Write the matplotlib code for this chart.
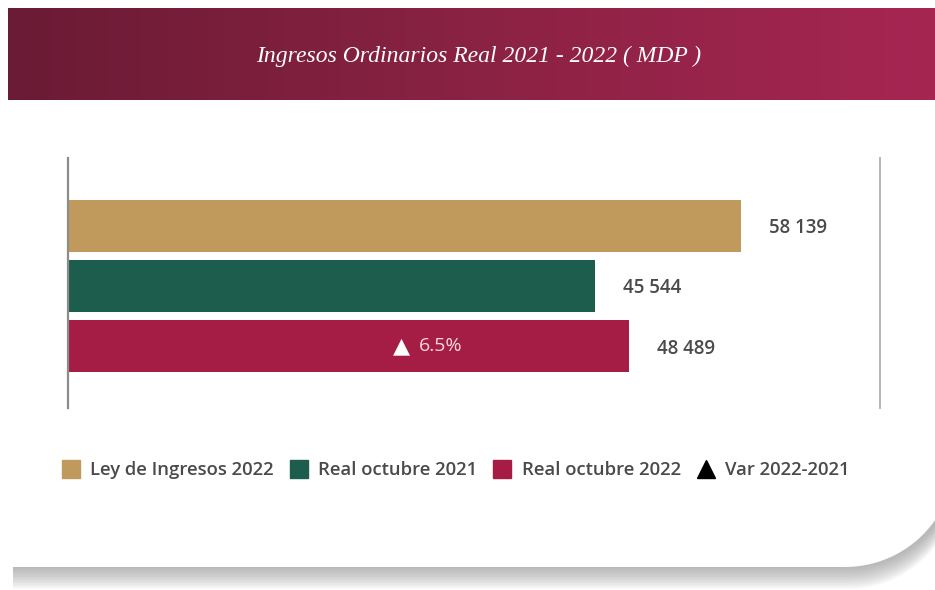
import numpy as np
import matplotlib
matplotlib.use('Agg')
import matplotlib.pyplot as plt
from matplotlib.colors import LinearSegmentedColormap
from matplotlib.patches import PathPatch
from matplotlib.path import Path
from matplotlib.lines import Line2D

# === Daten ===
categories = ['Ley de Ingresos 2022', 'Real octubre 2021', 'Real octubre 2022']
values = [58139, 45544, 48489]
value_labels = ['58 139', '45 544', '48 489']
colors = ['#bf9a5c', '#1c5d4e', '#a51d45']
var_label = '6.5%'
var_legend = 'Var 2022-2021'
title = 'Ingresos Ordinarios Real 2021 - 2022 ( MDP )'
# ==============

W, H = 935, 590
FONT = 'Open Sans'


def card(x0, y0, x1, y1, r):
    # Rechteck, nur die Ecke unten rechts abgerundet (y nach unten)
    t = np.linspace(0, np.pi / 2, 30)
    arc = np.column_stack([x1 - r + r * np.cos(t), y1 - r + r * np.sin(t)])
    pts = np.vstack([[x0, y0], [x1, y0], arc, [x0, y1], [x0, y0]])
    return Path(pts, closed=True)


fig = plt.figure(figsize=(W / 100, H / 100), dpi=100)
fig.patch.set_facecolor('white')

bg = fig.add_axes([0, 0, 1, 1])
bg.set_xlim(0, W)
bg.set_ylim(H, 0)
bg.axis('off')
for k in range(2, 24, 2):
    bg.add_patch(PathPatch(card(13, 100, 958, 567 + k, 110), fc='#7a7a7a', ec='none', alpha=0.06))
bg.add_patch(PathPatch(card(8, 95, 955, 567, 110), fc='white', ec='none'))

# Kopfzeile mit Verlauf
hdr = fig.add_axes([8 / W, 1 - 100 / H, 1 - 8 / W, 92 / H])
cmap = LinearSegmentedColormap.from_list('hdr', ['#6a1b35', '#8a2243', '#a62652'])
hdr.imshow(np.linspace(0, 1, 256).reshape(1, -1), aspect='auto', cmap=cmap, extent=[0, 1, 0, 1])
hdr.axis('off')
hdr.text(0.508, 0.47, title, color='white', fontsize=17, family='Liberation Serif',
         style='italic', ha='center', va='center', transform=hdr.transAxes)

# Balken
ax = fig.add_axes([68 / W, 1 - 408 / H, 812 / W, 250 / H])
y = np.arange(len(categories))
ax.barh(y, values, height=0.87, color=colors)
ax.set_xlim(0, 70150)
ax.set_ylim(3.03, -1.13)
ax.set_xticks([])
ax.set_yticks([])
ax.patch.set_alpha(0)
for s in ['top', 'bottom']:
    ax.spines[s].set_visible(False)
ax.spines['left'].set_color('#8c8c8c')
ax.spines['left'].set_linewidth(1.6)
ax.spines['right'].set_color('#b5b5b5')
ax.spines['right'].set_linewidth(1.4)

for yi, v, lab in zip(y, values, value_labels):
    ax.text(v + 2400, yi + 0.04, lab, va='center', ha='left', fontsize=13.5, family=FONT,
            weight='semibold', color='#4a4a4a')

ax.text(values[2] * 0.61, y[2], '\u25B2', va='center', ha='right', fontsize=16,
        family='DejaVu Sans', color='white')
ax.text(values[2] * 0.625, y[2], var_label, va='center', ha='left', fontsize=14,
        family=FONT, color='#f3dbe2')

# Legende
handles = [Line2D([], [], marker='s', ls='none', ms=13.5, color=c) for c in colors]
handles.append(Line2D([], [], marker='^', ls='none', ms=13, color='black'))
leg = fig.legend(handles, categories + [var_legend], loc='center left',
                 bbox_to_anchor=(45 / W, 1 - 470 / H), ncol=4, frameon=False,
                 handlelength=1.0, handletextpad=0.55, columnspacing=0.85,
                 prop={'family': FONT, 'weight': 'semibold', 'size': 13.3})
for t in leg.get_texts():
    t.set_color('#4a4a4a')

fig.savefig('out.png', dpi=100)
